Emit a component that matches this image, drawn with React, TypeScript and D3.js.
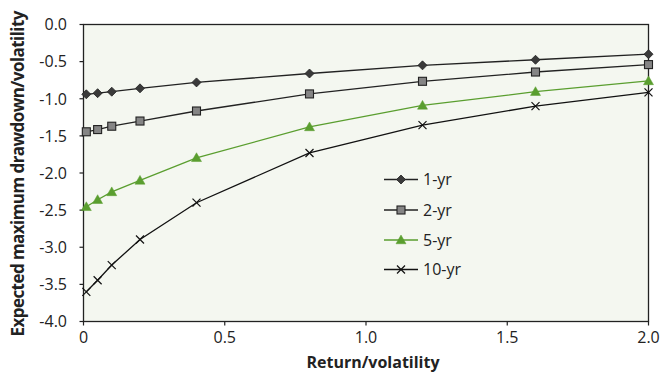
import React from "react";
import * as d3 from "d3";

const xValues = [0.01, 0.05, 0.1, 0.2, 0.4, 0.8, 1.2, 1.6, 2.0];
const series1yr = [-0.94, -0.925, -0.905, -0.86, -0.78, -0.66, -0.55, -0.475, -0.40];
const series2yr = [-1.445, -1.415, -1.37, -1.30, -1.165, -0.935, -0.765, -0.64, -0.54];
const series5yr = [-2.455, -2.36, -2.255, -2.10, -1.795, -1.38, -1.09, -0.905, -0.76];
const series10yr = [-3.60, -3.445, -3.24, -2.895, -2.40, -1.73, -1.355, -1.10, -0.915];
const seriesNames = ["1-yr", "2-yr", "5-yr", "10-yr"];
const xTicks = [0, 0.5, 1.0, 1.5, 2.0];
const yTicks = [0, -0.5, -1.0, -1.5, -2.0, -2.5, -3.0, -3.5, -4.0];

const W = 660, H = 372;
const M = { left: 83.5, right: 648.5, top: 24.5, bottom: 321.5 };
const FONT = "'Open Sans', 'Noto Sans', sans-serif";

const x = d3.scaleLinear().domain([0, 2]).range([M.left, M.right]);
const y = d3.scaleLinear().domain([-4, 0]).range([M.bottom, M.top]);

const GREEN = "#5a9e2f";
const styles = [
  { stroke: "#222", marker: "diamond", fill: "#3a3a3a", mstroke: "#222" },
  { stroke: "#222", marker: "square", fill: "#858585", mstroke: "#222" },
  { stroke: GREEN, marker: "triangle", fill: GREEN, mstroke: GREEN },
  { stroke: "#111", marker: "cross", fill: "none", mstroke: "#111" },
];

function Marker({ kind, cx, cy, fill, stroke }: any) {
  if (kind === "diamond") {
    const r = 4.5;
    return <path d={`M${cx},${cy - r}L${cx + r},${cy}L${cx},${cy + r}L${cx - r},${cy}Z`} fill={fill} stroke={stroke} strokeWidth={0.8} />;
  }
  if (kind === "square") {
    const r = 4;
    return <rect x={cx - r} y={cy - r} width={2 * r} height={2 * r} fill={fill} stroke={stroke} strokeWidth={1.1} />;
  }
  if (kind === "triangle") {
    const r = 5;
    return <path d={`M${cx},${cy - r}L${cx + r},${cy + r * 0.75}L${cx - r},${cy + r * 0.75}Z`} fill={fill} stroke={stroke} strokeWidth={0.5} />;
  }
  const r = 4;
  return <path d={`M${cx - r},${cy - r}L${cx + r},${cy + r}M${cx + r},${cy - r}L${cx - r},${cy + r}`} stroke={stroke} strokeWidth={1.2} fill="none" />;
}

export default function App() {
  const all = [series1yr, series2yr, series5yr, series10yr];
  const line = d3.line<number>().x((_, i) => x(xValues[i])).y((d) => y(d));
  const legendY = [179.5, 210, 240, 269.5];
  return (
    <svg width={W} height={H} style={{ position: "absolute", left: 0, top: 0 }} fontFamily={FONT}>
      <rect x={M.left} y={M.top} width={M.right - M.left} height={M.bottom - M.top} fill="#f4f7f0" stroke="#222" strokeWidth={1.3} />
      {yTicks.map((t) => (
        <g key={t}>
          <line x1={M.left - 4} x2={M.left} y1={y(t)} y2={y(t)} stroke="#222" strokeWidth={1.2} />
          <text x={67} y={y(t)} dy="0.36em" textAnchor="end" fontSize={16} fill="#222">{t.toFixed(1)}</text>
        </g>
      ))}
      {xTicks.map((t) => (
        <g key={t}>
          <line x1={x(t)} x2={x(t)} y1={M.bottom} y2={M.bottom + 4} stroke="#222" strokeWidth={1.2} />
          <text x={x(t)} y={343} textAnchor="middle" fontSize={16} fill="#222">{t === 0 ? "0" : t.toFixed(1)}</text>
        </g>
      ))}
      <text x={373} y={368} textAnchor="middle" fontSize={16} fontWeight="bold" fill="#222">Return/volatility</text>
      <text transform={`translate(24,173.5) rotate(-90)`} textAnchor="middle" fontSize={17} fontWeight="bold" fill="#222" textLength={326} lengthAdjust="spacing">Expected maximum drawdown/volatility</text>
      {all.map((s, si) => (
        <g key={si}>
          <path d={line(s) || ""} fill="none" stroke={styles[si].stroke} strokeWidth={1.3} />
          {s.map((v, i) => (
            <Marker key={i} kind={styles[si].marker} cx={x(xValues[i])} cy={y(v)} fill={styles[si].fill} stroke={styles[si].mstroke} />
          ))}
        </g>
      ))}
      {seriesNames.map((n, si) => (
        <g key={n}>
          <line x1={384} x2={418} y1={legendY[si]} y2={legendY[si]} stroke={styles[si].stroke} strokeWidth={1.3} />
          <Marker kind={styles[si].marker} cx={401} cy={legendY[si]} fill={styles[si].fill} stroke={styles[si].mstroke} />
          <text x={423} y={legendY[si]} dy="0.36em" fontSize={16} fill="#222">{n}</text>
        </g>
      ))}
    </svg>
  );
}
